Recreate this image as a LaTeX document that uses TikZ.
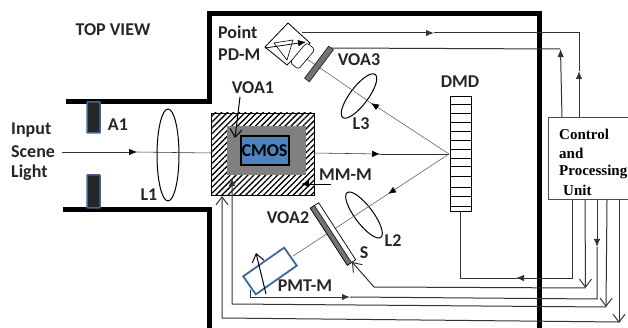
\documentclass[tikz,border=0pt]{standalone}
\usepackage{fontspec}
\setmainfont{Carlito}
\newfontfamily\unitfont{Liberation Serif}
\usepackage{tikz}
\usetikzlibrary{arrows}
\usetikzlibrary{arrows.meta}
\usetikzlibrary{patterns.meta}
\tikzset{>={Latex[length=8pt,width=6.5pt]}}
\definecolor{edgeblue}{HTML}{3F6797}
\definecolor{cmosblue}{HTML}{4F81BD}
\definecolor{wire}{HTML}{333333}
\tikzset{
    label/.style={font=\fontsize{18}{18}\selectfont\bfseries, inner sep=0pt, text=black!85},
    unitlabel/.style={font=\unitfont\fontsize{15}{15}\selectfont\bfseries, inner sep=0pt, anchor=west},
    wall/.style={line width=5pt, line cap=butt, line join=miter},
    wire/.style={draw=wire, line width=1pt, line join=miter},
    ray/.style={draw=black!65, line width=0.55pt},
    rayarrow/.style={-{Latex[length=8pt,width=6.5pt,black]}},
    openarrow/.style={-{Straight Barb[length=8pt,width=12pt]}},
    lens/.style={draw=black, line width=1pt},
    bar/.style={draw=black, line width=0.5pt, fill=black!55}
}

\begin{document}
\begin{tikzpicture}[x=1pt,y=-1pt]
    \useasboundingbox (0,0) rectangle (628,328);

    \coordinate (In) at (62,152);
    \coordinate (InA) at (137,152);
    \coordinate (InB) at (211,153);
    \coordinate (C1) at (314,153);
    \coordinate (C1A) at (380,154);
    \coordinate (D) at (449,154);
    \coordinate (L1) at (168,155);
    \coordinate (L2) at (364,215);
    \coordinate (L3) at (359,96);
    \coordinate (V2) at (333,234);
    \coordinate (V3) at (319,64);
    \coordinate (PMT) at (270,271);
    \coordinate (R3A) at (371,103);
    \coordinate (R3B) at (307,59);
    \coordinate (R2A) at (388,194);
    \coordinate (R2B) at (293,256);

    % Housing
    \draw[wall] (66,102) -- (209,102) -- (209,13.5) -- (539,13.5) -- (539,328);
    \draw[wall] (63,210) -- (209.5,210) -- (209.5,328);

    % Aperture
    \draw[line width=1.5pt, draw=edgeblue, fill=black!85, rounded corners=0.5pt] (87,102) rectangle (100,133);
    \draw[line width=1.5pt, draw=edgeblue, fill=black!85, rounded corners=0.5pt] (87,175) rectangle (100,208);

    % Lens #1
    \draw[lens] (L1) ellipse (11 and 46);

    % CMOS with attenuator
    \fill[pattern={Lines[angle=45,distance=4.2pt,line width=1.3pt]}] (211,113) rectangle (314,195);
    \draw[line width=0.5pt] (211,113) rectangle (314,195);
    \fill[black!50] (227,126) rectangle (306,175);
    \node[draw=black, line width=2pt, fill=cmosblue, minimum width=48pt, minimum height=29pt, inner sep=0pt,
        font=\fontsize{18}{18}\selectfont\bfseries] (cmos) at (264.5,151) {CMOS};

    % Lens #2
    \begin{scope}[shift={(L2)}, rotate=-53]
        \draw[lens] (0,0) ellipse (28 and 9);
    \end{scope}

    % Lens #3
    \begin{scope}[shift={(L3)}, rotate=53]
        \draw[lens] (0,0) ellipse (27 and 9);
    \end{scope}

    % Beam Path
    \draw[ray, rayarrow, draw=wire] (In) -- (InA);
    \draw[ray, draw=wire] (InA) -- (InB);
    \draw[ray, rayarrow, draw=wire] (C1) -- (C1A);
    \draw[ray, draw=wire] (C1A) -- (D);
    \draw[ray, rayarrow] (D) -- (R3A);
    \draw[ray] (R3A) -- (R3B);
    \draw[ray, rayarrow] (D) -- (R2A);
    \draw[ray] (R2A) -- (R2B);

    % Attenuator #3
    \begin{scope}[shift={(V3)}, rotate=53]
        \draw[bar] (-20,-3) rectangle (20,3);
    \end{scope}

    % Attenuator #2 and shutter
    \begin{scope}[shift={(V2)}, rotate=-57]
        \draw[draw=black, line width=0.7pt, fill=white] (-34,-5) rectangle (34,5);
        \draw[bar] (-34,0) rectangle (34,5);
    \end{scope}

    % Point detector
    \draw[fill=white, line width=0.8pt] (288,23) -- (310,43) -- (287,65) -- (265,47) -- cycle;
    \draw[line width=0.6pt] (274,43) -- (293,40) -- (287,60) -- cycle;
    \draw[line width=0.8pt, ->] (265,48) -- (306,42);
    \begin{scope}[shift={(302.5,56)}, rotate=50]
        \draw[fill=white, line width=0.6pt, rounded corners=3pt] (-13,-5.5) rectangle (13,5.5);
    \end{scope}

    % PMT
    \begin{scope}[shift={(PMT)}, rotate=35]
        \draw[draw=edgeblue, line width=1.8pt, fill=white] (-25,-11) rectangle (25,11);
    \end{scope}
    \draw[line width=1pt, openarrow] (266,294) -- (256,253);

    % DMD
    \draw[line width=1pt] (450,97) rectangle (471,212);
    \foreach \y in {105,114,123,132,141,150,159,167,177,188,197,207}
        \draw[line width=1pt] (450,\y) -- (471,\y);

    % Control unit
    \draw[draw=black!70, line width=1pt] (628,118) -- (548,118) -- (548,200) -- (628,200);
    \node[unitlabel] (ctrl) at (559,134) {Control};
    \node[unitlabel] (and) at (559,153) {and};
    \node[unitlabel] (proc) at (559,171.5) {Processing};
    \node[unitlabel] (unit) at (563,190) {Unit};

    % Wiring
    \draw[wire, ->] (302,33) -- (434,33);
    \draw[wire] (434,33) -- (579,33) -- (579,71);
    \draw[wire, ->] (579,118) -- (579,71);
    \draw[wire] (331,48) -- (560,49);
    \draw[wire, ->] (562,118) -- (560.5,49);
    \draw[wire, ->] (572,200) -- (572,278) -- (516,278);
    \draw[wire] (518,278) -- (460,278) -- (460,212);
    \draw[wire, openarrow] (585,200) -- (585.5,288);
    \draw[wire, openarrow] (585,288) -- (374,287) -- (352,262);
    \draw[wire, ->] (597,200) -- (597,247);
    \draw[wire] (597,247) -- (597,299) -- (350,297);
    \draw[wire, <-] (350,297) -- (250,297) -- (250,290);
    \draw[wire, openarrow] (607,200) -- (606,307);
    \draw[wire, ->] (606,307) -- (232,304) -- (232,178);
    \draw[wire, openarrow] (619,200) -- (619,323);
    \draw[wire, openarrow] (619,322) -- (222,318) -- (222,196);

    % Pointers
    \draw[line width=1pt, openarrow] (240,97) -- (235,138);
    \draw[line width=0.8pt, ->] (331,184) -- (301,184);

    % Labels
    \node[label] (topview) at (113,30) {TOP VIEW};
    \node[label, anchor=west] (input) at (11,130) {Input};
    \node[label, anchor=west] (scene) at (11,152) {Scene};
    \node[label, anchor=west] (light) at (11,173) {Light};
    \node[label] (aone) at (118,125) {A1};
    \node[label] (lone) at (149,195) {L1};
    \node[label, anchor=west] (point) at (218,32) {Point};
    \node[label, anchor=west] (pdm) at (218,55) {PD-M};
    \node[label] (voaone) at (253,88) {VOA1};
    \node[label] (voathree) at (359,60) {VOA3};
    \node[label] (dmd) at (460,82) {DMD};
    \node[label] (lthree) at (361,124) {L3};
    \node[label, anchor=west] (mmm) at (319,175) {MM-M};
    \node[label] (voatwo) at (288,218) {VOA2};
    \node[label] (ltwo) at (393,241) {L2};
    \node[label] (s) at (364,253) {S};
    \node[label] (pmtm) at (305,286) {PMT-M};
\end{tikzpicture}
\end{document}
